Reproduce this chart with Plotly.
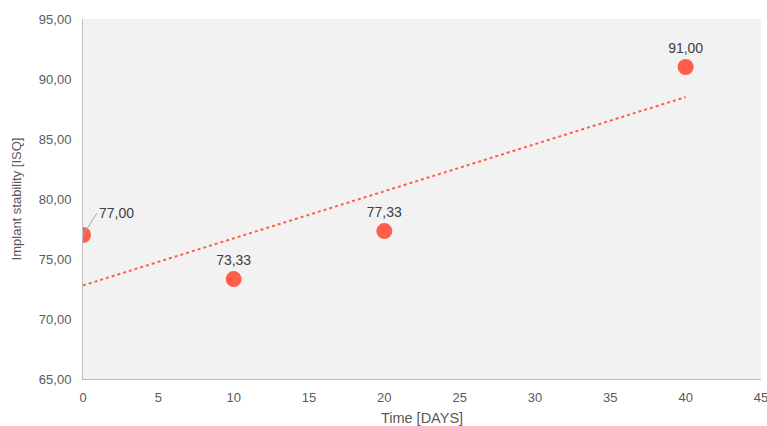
import numpy as np
import plotly.graph_objects as go

# Implant stability measurements over time
days = [0, 10, 20, 40]
isq = [77.00, 73.33, 77.33, 91.00]

x_ticks = [0, 5, 10, 15, 20, 25, 30, 35, 40, 45]
y_ticks = [65, 70, 75, 80, 85, 90, 95]

point_color = "#FF5F4A"
text_color = "#595959"
label_color = "#404040"
axis_color = "#BFBFBF"

# Linear trend fitted to the measurements
slope, intercept = np.polyfit(days, isq, 1)
trend_x = [min(days), max(days)]
trend_y = [slope * v + intercept for v in trend_x]

fig = go.Figure()

fig.add_trace(go.Scatter(
    x=trend_x, y=trend_y, mode="lines",
    line=dict(color=point_color, width=2, dash="dot"),
    hoverinfo="skip", showlegend=False,
))

fig.add_trace(go.Scatter(
    x=days[1:], y=isq[1:], mode="markers+text",
    marker=dict(color=point_color, size=16),
    texttemplate="%{y:.2f}", textposition="top center",
    textfont=dict(size=14, color=label_color),
    showlegend=False,
))

fig.add_trace(go.Scatter(
    x=days[:1], y=isq[:1], mode="markers",
    marker=dict(color=point_color, size=16),
    showlegend=False,
))

# First value is labelled with a leader line
fig.add_annotation(
    x=days[0], y=isq[0], text=f"{isq[0]:.2f}".replace(".", ","),
    showarrow=True, arrowhead=0, arrowwidth=1, arrowcolor="#A6A6A6",
    ax=14, ay=-22, xanchor="left", yanchor="middle",
    font=dict(size=14, color=label_color),
)

fig.update_layout(
    width=767, height=426,
    margin=dict(l=83, r=6, t=19, b=47),
    paper_bgcolor="white", plot_bgcolor="#F2F2F2",
    separators=",.",
    font=dict(family="Liberation Sans, Arial, sans-serif", size=13, color=text_color),
    xaxis=dict(
        range=[0, 45.001], tickvals=x_ticks, showgrid=False, zeroline=False,
        showline=True, linecolor=axis_color, linewidth=1,
        title=dict(text="Time [DAYS]", standoff=10, font=dict(size=14.5, color=text_color)),
        ticks="outside", ticklen=6, tickcolor="rgba(0,0,0,0)",
        ticklabeloverflow="allow", automargin=False,
    ),
    yaxis=dict(
        range=[65, 95], tickvals=y_ticks, tickformat=".2f", showgrid=False,
        zeroline=False, showline=True, linecolor=axis_color, linewidth=1,
        title=dict(text="Implant stability [ISQ]", standoff=14, font=dict(size=13, color=text_color)),
        ticks="outside", ticklen=8, tickcolor="rgba(0,0,0,0)",
    ),
)

fig.write_html("out.html")
